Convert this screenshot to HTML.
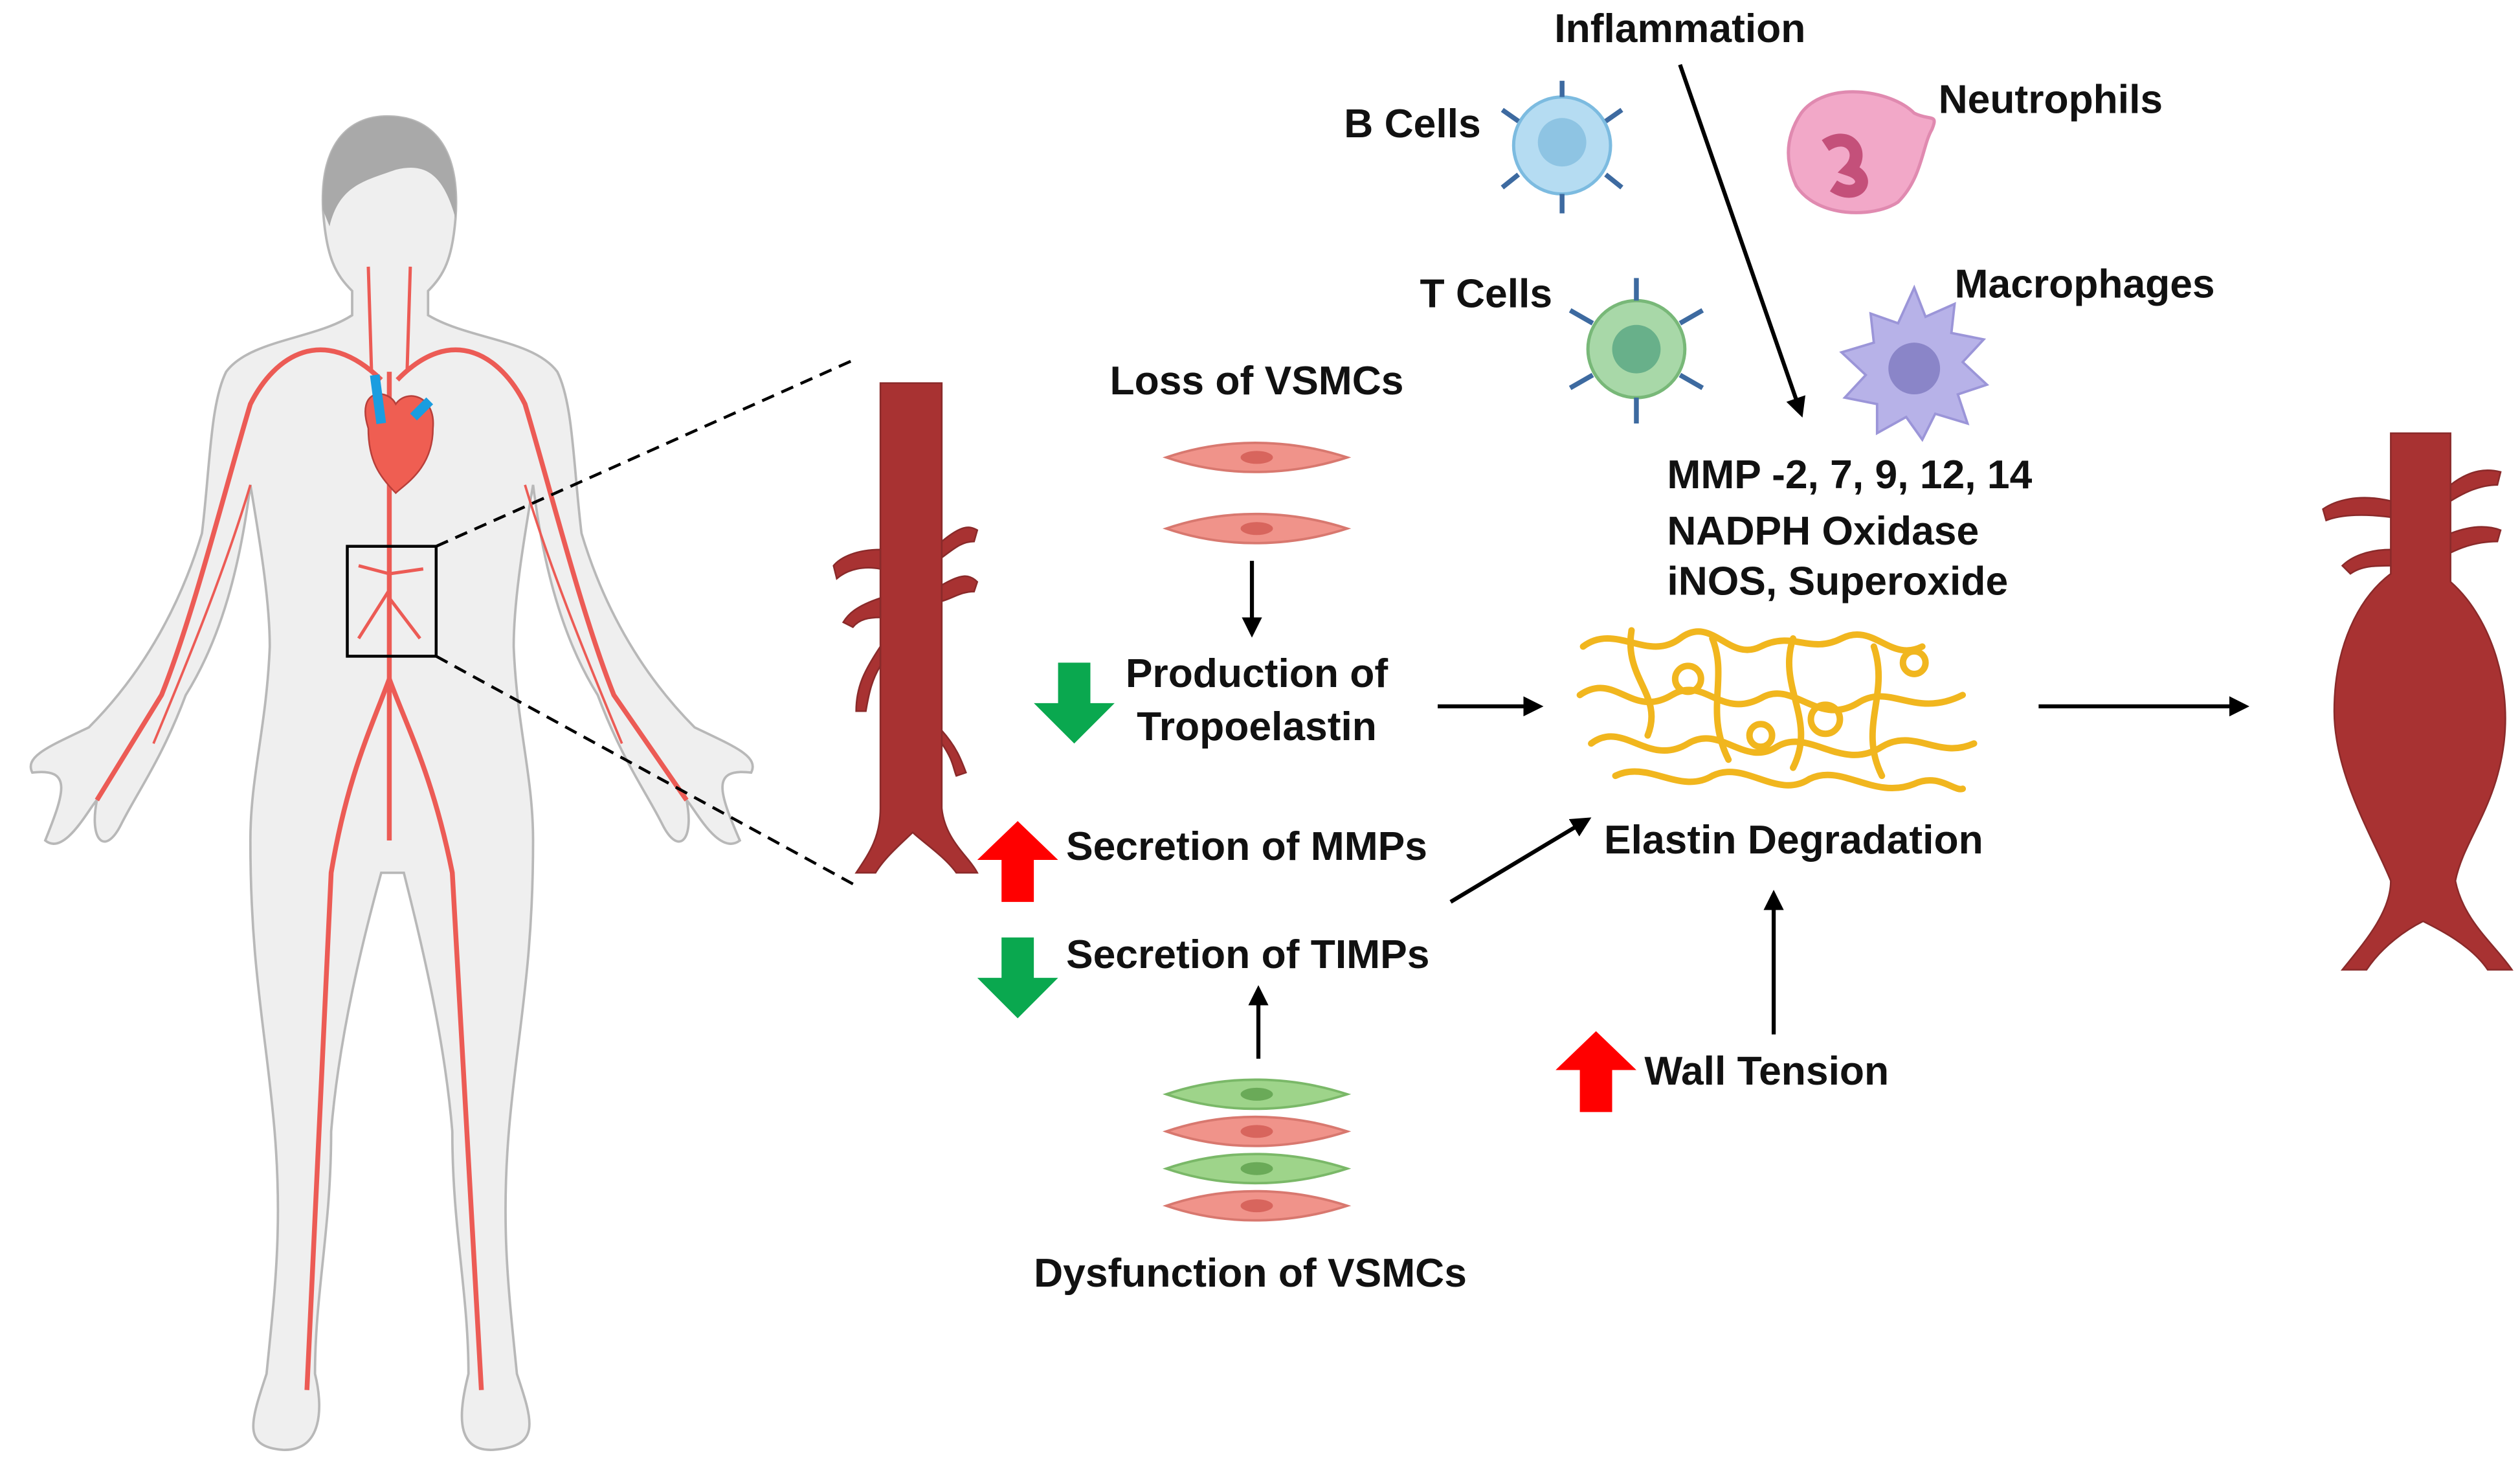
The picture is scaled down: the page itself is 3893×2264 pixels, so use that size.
<!DOCTYPE html>
<html><head><style>html,body{margin:0;padding:0;background:#fff}svg{display:block}</style></head><body>
<svg width="3893" height="2264" viewBox="0 0 1560 907" preserveAspectRatio="none" xmlns="http://www.w3.org/2000/svg">
<defs>
<marker id="ah" viewBox="0 0 10 10" refX="8" refY="5" markerWidth="5" markerHeight="5" orient="auto"><path d="M0,0 L10,5 L0,10 z" fill="#000"/></marker>
</defs>
<rect width="1560" height="907" fill="#fff"/>
<g fill="#efefef" stroke="#b8b8b8" stroke-width="1.5">
<path d="M200,130 C198,90 215,72 240,72 C268,72 285,92 282,135 C280,160 275,170 265,180 L265,195 C290,210 330,210 345,230 C355,250 355,290 360,330 C375,380 400,420 430,450 C455,462 470,468 465,478 C440,475 445,490 458,520 C445,530 430,500 425,495 C430,520 420,530 410,510 C400,490 385,470 370,430 C345,390 335,340 330,300 C325,330 318,370 318,400 C320,450 330,480 330,520 C330,600 320,640 315,700 C310,760 315,800 320,850 C330,880 335,895 305,897 C280,898 285,870 290,850 C290,800 280,760 280,700 C275,640 260,580 250,540 L236,540 C225,580 210,640 205,700 C205,760 195,800 195,850 C200,870 200,898 175,897 C150,895 155,880 165,850 C170,800 175,760 170,700 C165,640 155,600 155,520 C155,480 165,450 167,400 C167,370 160,330 155,300 C150,340 140,390 115,430 C100,470 85,490 75,510 C65,530 55,520 60,495 C55,500 40,530 28,520 C40,490 45,475 20,478 C15,468 30,462 55,450 C85,420 110,380 125,330 C130,290 130,250 140,230 C155,210 195,210 218,195 L218,180 C208,170 202,160 200,130 Z"/>
</g>
<path d="M200,130 C198,90 215,72 240,72 C268,72 285,92 282,135 C275,110 265,100 245,105 C225,112 210,115 204,140 Z" fill="#a9a9a9"/>
<g stroke="#ec5b55" fill="none" stroke-width="3">
<path d="M241,230 L241,520"/><path d="M241,420 C230,450 215,480 205,540 L190,860"/><path d="M241,420 C252,450 268,480 280,540 L298,860"/>
<path d="M236,235 C200,200 170,220 155,250 C140,300 120,380 100,430 L60,495"/>
<path d="M246,235 C280,200 310,220 325,250 C340,300 360,380 380,430 L425,495"/>
<path d="M230,230 L228,165 M252,230 L254,165" stroke-width="2"/>
<path d="M241,355 L222,350 M241,355 L262,352 M241,365 L222,395 M241,370 L260,395" stroke-width="2"/>
<path d="M155,300 C140,350 120,400 95,460 M325,300 C340,350 360,400 385,460" stroke-width="1.5"/>
</g>
<path d="M228,265 C220,240 240,240 245,250 C252,240 270,245 268,265 C268,290 250,300 245,305 C235,295 228,285 228,265 Z" fill="#ef5e52" stroke="#b83f3a" stroke-width="1"/>
<path d="M232,232 L236,262 M256,258 L266,248" stroke="#1a9de0" stroke-width="6"/>
<rect x="215" y="338" width="55" height="68" fill="none" stroke="#000" stroke-width="1.8"/>
<path d="M270,338 L530,222 M270,406 L530,548" stroke="#000" stroke-width="1.8" stroke-dasharray="8,5"/>
<g fill="#a83232" stroke="#8a2a2a" stroke-width="1">
<path d="M545,237 L583,237 L583,500 C585,520 600,530 605,540 L592,540 C585,530 570,520 565,515 C560,520 548,530 542,540 L530,540 C538,528 545,518 545,500 Z"/>
<path d="M545,340 C530,340 520,345 516,350 L518,358 C525,352 535,350 545,352 Z M583,335 C595,325 600,325 605,328 L603,335 C595,335 590,340 583,345 Z M545,370 C530,375 525,380 522,385 L528,388 C532,383 538,382 545,382 Z M583,362 C595,355 600,355 605,360 L603,366 C595,366 590,370 583,372 Z M545,400 C535,415 530,425 530,440 L536,440 C538,428 540,420 545,412 Z M583,460 C590,470 590,475 592,480 L598,478 C595,470 592,462 583,452 Z"/>
</g>
<g fill="#a83232" stroke="#8a2a2a" stroke-width="1">
<path d="M1480,268 L1517,268 L1517,360 C1540,380 1555,420 1550,460 C1545,500 1525,520 1520,545 C1525,570 1545,585 1555,600 L1540,600 C1530,585 1510,575 1500,570 C1490,575 1475,585 1465,600 L1450,600 C1462,585 1480,565 1480,545 C1470,520 1445,480 1445,440 C1445,400 1460,370 1480,355 Z"/>
<path d="M1480,310 C1460,305 1445,310 1438,315 L1440,322 C1450,318 1465,318 1480,320 Z M1517,300 C1530,290 1540,290 1548,292 L1546,300 C1535,300 1525,305 1517,310 Z M1480,340 C1465,340 1455,345 1450,350 L1455,355 C1462,350 1470,350 1480,350 Z M1517,330 C1530,325 1540,325 1548,328 L1546,335 C1535,335 1525,338 1517,342 Z"/>
</g>
<circle cx="967" cy="90" r="30" fill="#b5dcf2" stroke="#7cbbe0" stroke-width="2"/><circle cx="967" cy="88" r="15" fill="#8ec4e3"/>
<g stroke="#3d6aa0" stroke-width="3" fill="none"><path d="M967,60 L967,50 M967,120 L967,132 M940,75 L930,68 M994,75 L1004,68 M940,108 L930,116 M994,108 L1004,116"/></g>
<circle cx="1013" cy="216" r="30" fill="#a8d8a8" stroke="#78b878" stroke-width="2"/><circle cx="1013" cy="216" r="15" fill="#68b08a"/>
<g stroke="#3d6aa0" stroke-width="3" fill="none"><path d="M1013,186 L1013,172 M1013,246 L1013,262 M986,200 L972,192 M1040,200 L1054,192 M986,232 L972,240 M1040,232 L1054,240"/></g>
<path d="M1115,70 C1130,50 1170,55 1185,70 C1195,75 1200,70 1196,80 C1190,90 1190,110 1175,125 C1160,135 1125,135 1112,115 C1105,100 1105,85 1115,70 Z" fill="#f2a8c8" stroke="#e08ab0" stroke-width="2"/>
<path d="M1130,90 C1145,80 1155,95 1145,105 C1160,110 1150,125 1135,115" fill="none" stroke="#c4507a" stroke-width="8"/>
<path d="M1185,178 L1192,196 L1210,188 L1208,206 L1228,210 L1215,224 L1230,238 L1212,244 L1218,262 L1198,256 L1190,272 L1180,258 L1162,268 L1162,250 L1142,246 L1155,232 L1140,218 L1160,212 L1158,194 L1175,200 Z" fill="#b7b2e8" stroke="#9b95d8" stroke-width="1.5"/>
<circle cx="1185" cy="228" r="16" fill="#8a85c8"/>
<g stroke-width="1.5">
<path d="M722,283 C760,270 800,272 834,283 C800,294 760,296 722,283 Z" fill="#f0938a" stroke="#d8786f"/><ellipse cx="778" cy="283" rx="10" ry="4" fill="#d8655d"/>
<path d="M722,327 C760,314 800,316 834,327 C800,338 760,340 722,327 Z" fill="#f0938a" stroke="#d8786f"/><ellipse cx="778" cy="327" rx="10" ry="4" fill="#d8655d"/>
<path d="M722,677 C760,664 800,666 834,677 C800,688 760,690 722,677 Z" fill="#9ed48a" stroke="#7ab868"/><ellipse cx="778" cy="677" rx="10" ry="4" fill="#6aaa58"/>
<path d="M722,700 C760,687 800,689 834,700 C800,711 760,713 722,700 Z" fill="#f0938a" stroke="#d8786f"/><ellipse cx="778" cy="700" rx="10" ry="4" fill="#d8655d"/>
<path d="M722,723 C760,710 800,712 834,723 C800,734 760,736 722,723 Z" fill="#9ed48a" stroke="#7ab868"/><ellipse cx="778" cy="723" rx="10" ry="4" fill="#6aaa58"/>
<path d="M722,746 C760,733 800,735 834,746 C800,757 760,759 722,746 Z" fill="#f0938a" stroke="#d8786f"/><ellipse cx="778" cy="746" rx="10" ry="4" fill="#d8655d"/>
</g>
<g fill="none" stroke="#f1b61e" stroke-width="4" stroke-linecap="round">
<path d="M980,400 C1000,385 1020,410 1040,395 C1060,380 1070,410 1090,400 C1110,390 1120,405 1140,395 C1160,385 1170,410 1190,400"/>
<path d="M978,430 C1000,415 1010,445 1035,430 C1055,418 1065,445 1090,432 C1110,420 1125,450 1150,435 C1170,422 1185,445 1215,430"/>
<path d="M985,460 C1005,445 1020,475 1045,460 C1065,448 1080,475 1100,462 C1120,450 1140,478 1165,462 C1185,450 1200,470 1222,460"/>
<path d="M1000,480 C1020,470 1040,492 1060,480 C1080,470 1100,495 1120,482 C1140,472 1160,495 1185,485 C1200,478 1210,490 1215,488"/>
<path d="M1010,390 C1005,420 1030,430 1020,455 M1060,395 C1070,420 1055,440 1070,470 M1110,395 C1100,425 1125,445 1110,475 M1160,400 C1170,430 1150,450 1165,480"/>
<circle cx="1045" cy="420" r="8"/><circle cx="1130" cy="445" r="9"/><circle cx="1185" cy="410" r="7"/><circle cx="1090" cy="455" r="7"/>
</g>
<g stroke="#000" stroke-width="2.5" fill="none" marker-end="url(#ah)">
<path d="M1040,40 L1115,256"/>
<path d="M775,347 L775,392"/>
<path d="M890,437 L953,437"/>
<path d="M898,558 L983,507"/>
<path d="M1098,640 L1098,553"/>
<path d="M779,655 L779,612"/>
<path d="M1262,437 L1390,437"/>
</g>
<path d="M655,410 L675,410 L675,435 L690,435 L665,460 L640,435 L655,435 Z" fill="#0aa84f"/>
<path d="M620,580 L640,580 L640,605 L655,605 L630,630 L605,605 L620,605 Z" fill="#0aa84f"/>
<path d="M630,508 L655,532 L640,532 L640,558 L620,558 L620,532 L605,532 Z" fill="#f00"/>
<path d="M988,638 L1013,662 L998,662 L998,688 L978,688 L978,662 L963,662 Z" fill="#f00"/>
<g font-family="Liberation Sans, sans-serif" font-weight="bold" font-size="25" fill="#111">
<text x="1040" y="26" text-anchor="middle">Inflammation</text>
<text x="832" y="85">B Cells</text>
<text x="1200" y="70">Neutrophils</text>
<text x="879" y="190">T Cells</text>
<text x="1210" y="184">Macrophages</text>
<text x="778" y="244" text-anchor="middle">Loss of VSMCs</text>
<text x="1032" y="302">MMP -2, 7, 9, 12, 14</text>
<text x="1032" y="337">NADPH Oxidase</text>
<text x="1032" y="368">iNOS, Superoxide</text>
<text x="778" y="425" text-anchor="middle">Production of</text>
<text x="778" y="458" text-anchor="middle">Tropoelastin</text>
<text x="660" y="532">Secretion of MMPs</text>
<text x="993" y="528">Elastin Degradation</text>
<text x="660" y="599">Secretion of TIMPs</text>
<text x="1018" y="671">Wall Tension</text>
<text x="774" y="796" text-anchor="middle">Dysfunction of VSMCs</text>
</g>
</svg>
</body></html>
